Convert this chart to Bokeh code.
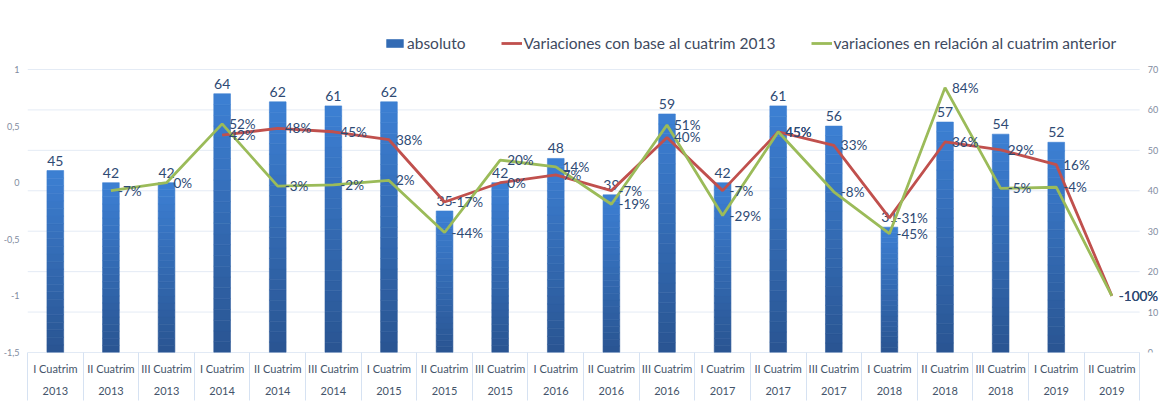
import numpy as np
from bokeh.plotting import figure
from bokeh.models import (ColumnDataSource, Range1d, FixedTicker,
                          Legend, LegendItem, LabelSet)
from bokeh.core.properties import value
from bokeh.embed import file_html
from bokeh.resources import INLINE

# ---- data ----
cuatrims = ["I Cuatrim", "II Cuatrim", "III Cuatrim"] * 6 + ["I Cuatrim", "II Cuatrim"]
years = ["2013"] * 3 + ["2014"] * 3 + ["2015"] * 3 + ["2016"] * 3 + ["2017"] * 3 + ["2018"] * 3 + ["2019"] * 2
absoluto = [45, 42, 42, 64, 62, 61, 62, 35, 42, 48, 39, 59, 42, 61, 56, 31, 57, 54, 52, None]
var_base_2013 = [None, None, None, 42, 48, 45, 38, -17, 0, 7, -7, 40, -7, 45, 33, -31, 36, 29, 16, -100]
var_anterior = [None, -7, 0, 52, -3, -2, 2, -44, 20, 14, -19, 51, -29, 45, -8, -45, 84, -5, -4, -100]
left_ticks = [-1.5, -1, -0.5, 0, 0.5, 1]
left_tick_labels = ["-1,5", "-1", "-0,5", "0", "0,5", "1"]
right_ticks = [0, 10, 20, 30, 40, 50, 60, 70]

n = len(cuatrims)
centers = [i + 0.5 for i in range(n)]
bounds = [i for i in range(n + 1)]

FONT = "Lato"
LABEL_COLOR = "#2E4A74"
TICK_COLOR = "#7F8CA0"

# The frame reaches the right edge so that the last data label is not clipped;
# the category area occupies x in [0, n], the right-axis labels sit just past n.
p = figure(width=1159, height=412, output_backend="svg", toolbar_location=None,
           x_range=Range1d(0, n * 1141 / 1121), y_range=Range1d(-1.5, 1.433),
           min_border_left=18, min_border_right=0, min_border_top=20, min_border_bottom=60)
p.outline_line_color = None
p.xgrid.visible = False
p.ygrid.visible = False
p.extra_y_ranges = {"bars": Range1d(0, 82.12)}

# gridlines (right-axis ticks) over the category area
p.segment(x0=[0] * len(right_ticks), x1=[n] * len(right_ticks), y0=right_ticks, y1=right_ticks,
          y_range_name="bars", line_color="#E4EBF5", line_width=1)
# category axis line
p.segment(x0=[0], x1=[n], y0=[0], y1=[0], y_range_name="bars", line_color="#D3DFF0", line_width=1.2)

# ---- bars with vertical gradient (sliced) ----
NS = 24
top_c = np.array([0x3D, 0x80, 0xD4])
bot_c = np.array([0x2A, 0x55, 0x92])
bx, bb, bt, bc = [], [], [], []
for i, v in enumerate(absoluto):
    if v is None:
        continue
    for k in range(NS):
        f = (k + 0.5) / NS
        c = (bot_c + (top_c - bot_c) * f).astype(int)
        bx.append(centers[i])
        bb.append(v * k / NS)
        bt.append(v * (k + 1) / NS)
        bc.append("#%02x%02x%02x" % tuple(c))
bar_src = ColumnDataSource(dict(x=bx, bottom=bb, top=bt, color=bc))
bars = p.vbar(x="x", bottom="bottom", top="top", width=0.3, fill_color="color",
              line_color="color", line_width=0.6, source=bar_src, y_range_name="bars")

# bar labels
bl_x = [centers[i] for i, v in enumerate(absoluto) if v is not None]
bl_y = [v for v in absoluto if v is not None]
bl_t = [str(v) for v in absoluto if v is not None]
p.text(x=bl_x, y=bl_y, text=bl_t, y_range_name="bars", text_align="center",
       text_baseline="bottom", y_offset=-5, text_font=value(FONT), text_font_size="14px",
       text_color=LABEL_COLOR)

# ---- lines ----
def series(vals):
    xs = [centers[i] for i, v in enumerate(vals) if v is not None]
    ys = [v / 100 for v in vals if v is not None]
    ts = ["%d%%" % v for v in vals if v is not None]
    return xs, ys, ts

rx, ry, rt = series(var_base_2013)
gx, gy, gt = series(var_anterior)
red = p.line(rx, ry, line_color="#C0504D", line_width=2.8)
green = p.line(gx, gy, line_color="#9BBB59", line_width=2.8)

for xs, ys, ts in [(rx, ry, rt), (gx, gy, gt)]:
    src = ColumnDataSource(dict(x=xs, y=ys, t=ts))
    p.add_layout(LabelSet(x="x", y="y", text="t", source=src, x_offset=7,
                          text_align="left", text_baseline="middle",
                          text_font=value(FONT), text_font_size=value("13.5px"),
                          text_color=LABEL_COLOR))

# right-axis tick labels (0..70) just past the category area
p.text(x=[n] * len(right_ticks), y=right_ticks, text=[str(t) for t in right_ticks],
       y_range_name="bars", x_offset=8, text_align="left", text_baseline="middle",
       text_font=value(FONT), text_font_size="9px", text_color=TICK_COLOR)

# ---- axes ----
xa = p.xaxis[0]
xa.ticker = FixedTicker(ticks=centers, minor_ticks=bounds)
xa.major_label_overrides = {c: "%s\n%s" % (cuatrims[i], years[i]) for i, c in enumerate(centers)}
xa.major_tick_out = 0
xa.major_tick_in = 0
xa.minor_tick_out = 48
xa.minor_tick_in = 0
xa.minor_tick_line_color = "#D6E2F2"
xa.axis_line_color = None
xa.major_label_standoff = -39
xa.major_label_text_font = FONT
xa.major_label_text_font_size = "11px"
xa.major_label_text_color = "#44546A"
xa.major_label_text_line_height = 1.76

ya = p.yaxis[0]
ya.ticker = FixedTicker(ticks=left_ticks)
ya.major_label_overrides = {t: l for t, l in zip(left_ticks, left_tick_labels)}
ya.axis_line_color = None
ya.major_tick_line_color = None
ya.minor_tick_line_color = None
ya.major_label_text_font = FONT
ya.major_label_text_font_size = "9px"
ya.major_label_text_color = TICK_COLOR
ya.major_label_standoff = 2

# ---- legend ----
legend = Legend(items=[
    LegendItem(label="absoluto", renderers=[bars], index=NS // 2),
    LegendItem(label="Variaciones con base al cuatrim 2013", renderers=[red]),
    LegendItem(label="variaciones en relación al cuatrim anterior", renderers=[green]),
], orientation="horizontal", location=(357, 300))
legend.label_text_font = FONT
legend.label_text_font_size = "15.5px"
legend.label_text_color = "#3E4A60"
legend.glyph_width = 21
legend.glyph_height = 10
legend.label_standoff = 2
legend.spacing = 35
legend.border_line_color = None
legend.background_fill_alpha = 0
legend.padding = 0
legend.margin = 0
p.add_layout(legend)

open("out.html", "w").write(file_html(p, INLINE))
